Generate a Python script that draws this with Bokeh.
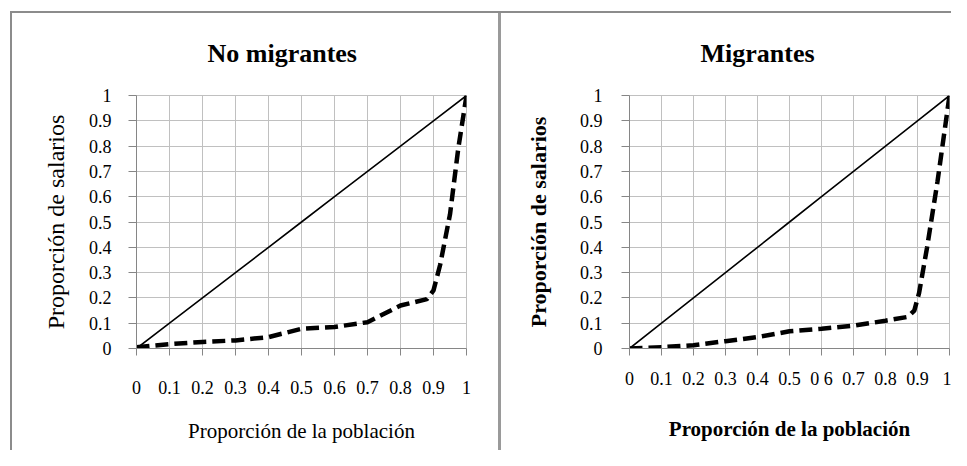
from bokeh.plotting import figure
from bokeh.layouts import row, column
from bokeh.models import FixedTicker, Spacer
from bokeh.embed import file_html
from bokeh.resources import INLINE

# ---- data ----
ticks = [0, 0.1, 0.2, 0.3, 0.4, 0.5, 0.6, 0.7, 0.8, 0.9, 1]
tick_labels = {0: "0", 0.1: "0.1", 0.2: "0.2", 0.3: "0.3", 0.4: "0.4", 0.5: "0.5",
               0.6: "0.6", 0.7: "0.7", 0.8: "0.8", 0.9: "0.9", 1: "1"}
x_labels_mig = dict(tick_labels)
x_labels_mig[0.6] = "0 6"

eq_x = [0, 0.1, 0.2, 0.3, 0.4, 0.5, 0.6, 0.7, 0.8, 0.9, 1.0]
eq_y = [0, 0.1, 0.2, 0.3, 0.4, 0.5, 0.6, 0.7, 0.8, 0.9, 1.0]

nomig_x = [0, 0.1, 0.2, 0.3, 0.4, 0.5, 0.6, 0.7, 0.8, 0.88, 0.9, 0.92, 0.95, 0.975, 1.0]
nomig_y = [0.005, 0.017, 0.026, 0.032, 0.045, 0.078, 0.085, 0.104, 0.17, 0.195, 0.23, 0.33, 0.53, 0.79, 1.0]

mig_x = [0, 0.1, 0.2, 0.3, 0.4, 0.5, 0.6, 0.7, 0.8, 0.87, 0.89, 0.905, 0.93, 0.9625, 1.0]
mig_y = [0.0, 0.005, 0.013, 0.029, 0.045, 0.068, 0.078, 0.09, 0.11, 0.125, 0.15, 0.22, 0.40, 0.66, 1.0]

SERIF = "Liberation Serif"
GRID = "#c0c0c0"
AXIS = "#868686"
BORDER = "#8c8c8c"


def make_panel(title, xs, ys, width, height, frame, xlab_std, xtitle_std,
               ylab_std, ytitle_std, bold_labels, xlabels, title_standoff, ytitle_size):
    left, right, top, bottom = frame
    p = figure(width=width, height=height, output_backend="svg", toolbar_location=None,
               x_range=(0, 1), y_range=(0, 1),
               min_border_left=left, min_border_right=right,
               min_border_top=top, min_border_bottom=bottom)
    p.title.text = title
    p.title.align = "left"
    p.title.vertical_align = "top"
    p.title.offset = 71
    p.title.standoff = title_standoff
    p.title.text_font = SERIF
    p.title.text_font_size = "26px"
    p.title.text_font_style = "bold"
    p.title.text_color = "black"

    for ax in (p.xaxis[0], p.yaxis[0]):
        ax.ticker = FixedTicker(ticks=ticks)
        ax.minor_tick_line_color = None
        ax.major_tick_in = 0
        ax.axis_line_color = AXIS
        ax.major_tick_line_color = AXIS
        ax.major_label_text_font = SERIF
        ax.major_label_text_font_size = "18px"
        ax.major_label_text_color = "black"
        ax.axis_label_text_font = SERIF
        ax.axis_label_text_color = "black"
        ax.axis_label_text_font_style = "bold" if bold_labels else "normal"
    p.xaxis.major_label_overrides = xlabels
    p.yaxis.major_label_overrides = tick_labels
    p.xaxis.major_tick_out = 7
    p.yaxis.major_tick_out = 8
    p.xaxis.axis_label = "Proporción de la población"
    p.yaxis.axis_label = "Proporción de salarios"
    p.xaxis.axis_label_text_font_size = "21px"
    p.yaxis.axis_label_text_font_size = ytitle_size
    p.xaxis.major_label_standoff = xlab_std
    p.xaxis.axis_label_standoff = xtitle_std
    p.yaxis.major_label_standoff = ylab_std
    p.yaxis.axis_label_standoff = ytitle_std

    p.grid.grid_line_color = GRID
    p.grid.grid_line_width = 1
    p.outline_line_color = GRID
    p.background_fill_color = "white"
    p.border_fill_color = "white"

    p.line(eq_x, eq_y, line_color="black", line_width=1.6)
    p.line(xs, ys, line_color="black", line_width=4.5, line_dash="13 6")
    return p


H = 437
p1 = make_panel("No migrantes", nomig_x, nomig_y, 486, H, (124, 32, 81, 100),
                25, 22, 17, 17, False, tick_labels, 51, "24px")
p2 = make_panel("Migrantes", mig_x, mig_y, 450, H, (128, 2, 81, 102),
                13, 25, 19, 26, True, x_labels_mig, 51, "22px")


def bar(w, h, color=None):
    s = Spacer(width=w, height=h)
    if color:
        s.styles = {"background-color": color}
    return s


layout = column(
    bar(951, 11),
    row(bar(10, 2), bar(941, 2, BORDER)),
    row(bar(10, H), bar(2, H, BORDER), p1, bar(3, H, "#9a9a9a"), p2),
)
open("out.html", "w").write(file_html(layout, INLINE))
